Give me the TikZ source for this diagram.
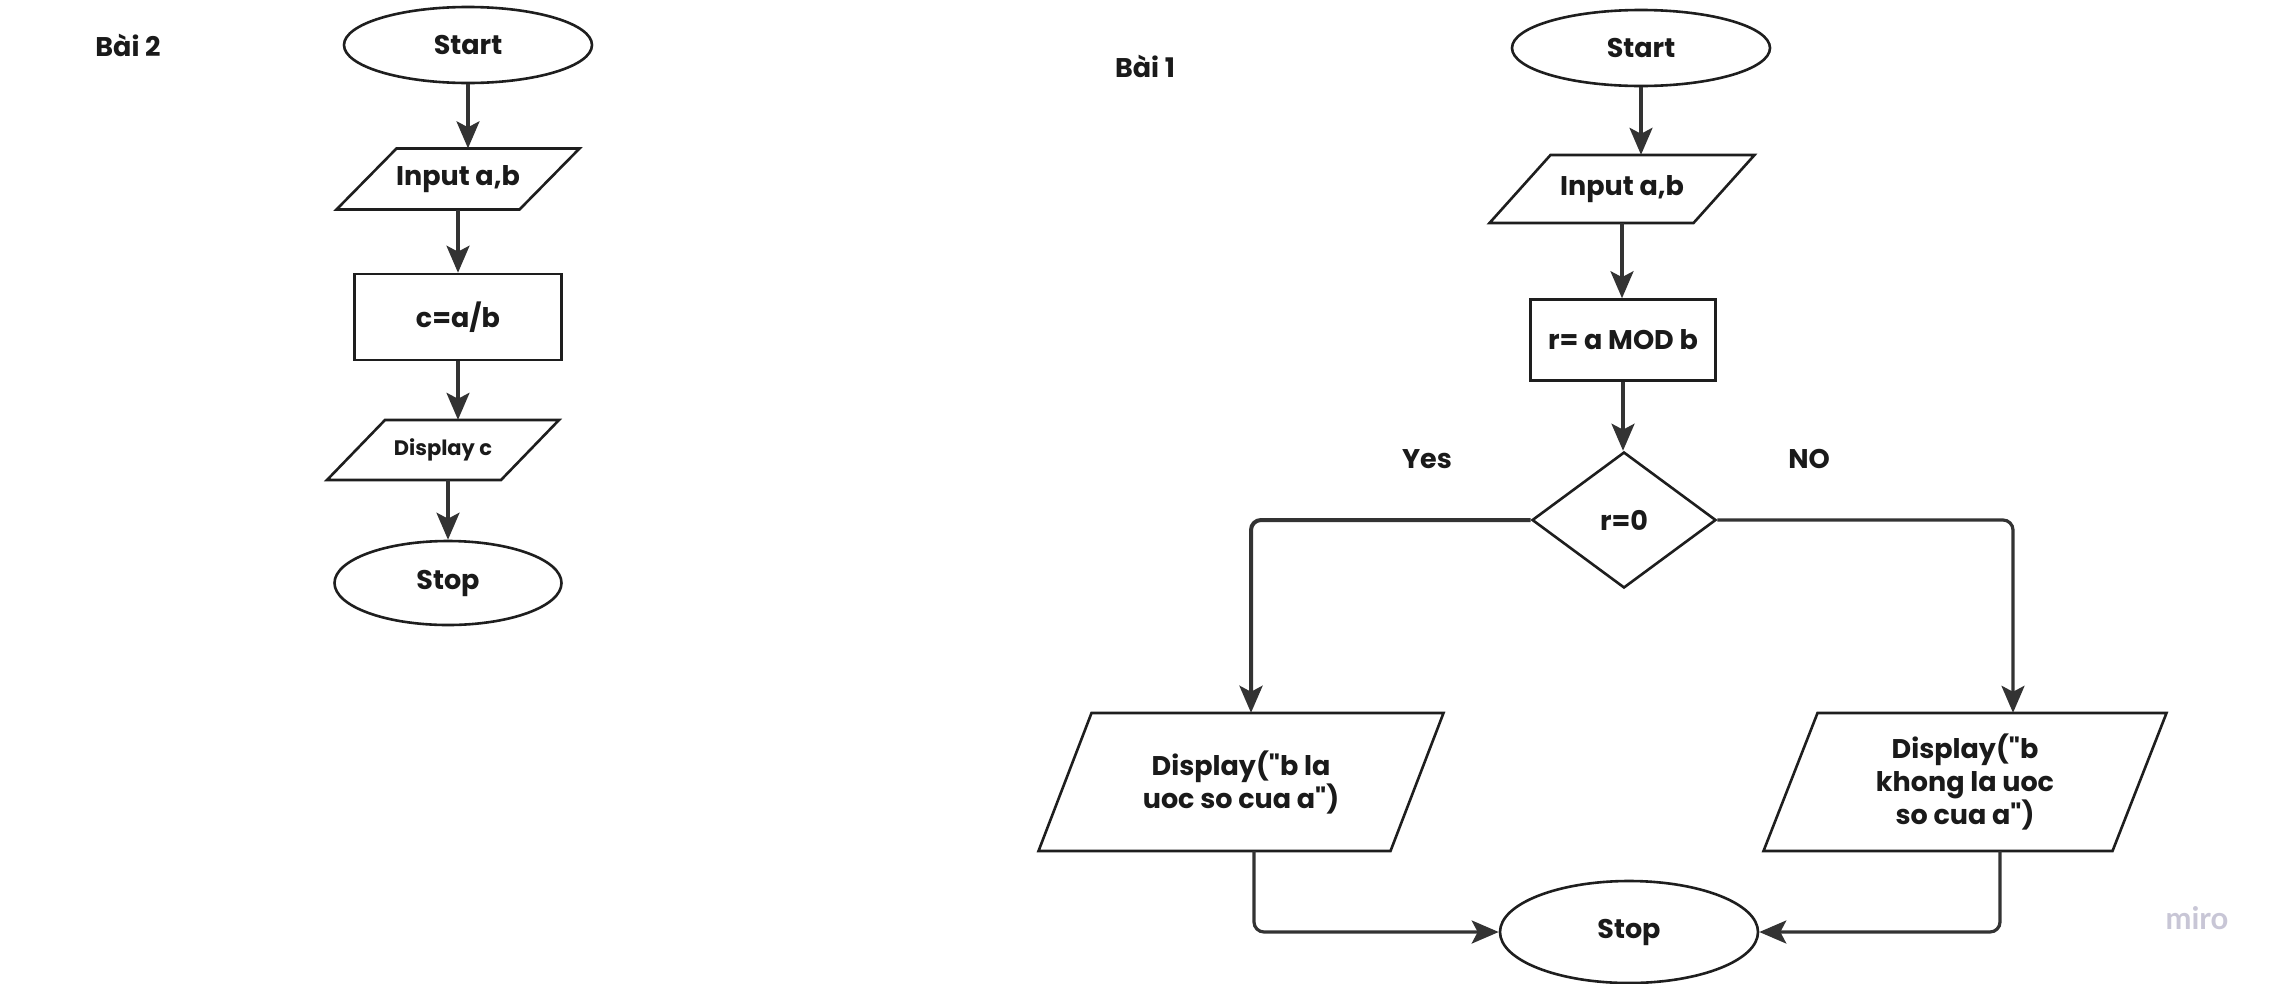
\documentclass[tikz,border=0pt]{standalone}
\usepackage{fontspec}
\setmainfont{Poppins}[Ligatures=TeXOff]
\newfontfamily\wmfont{Lato}
\usetikzlibrary{arrows.meta,calc,shapes.geometric}

\definecolor{shapeline}{HTML}{1E1E1E}
\definecolor{flowline}{HTML}{333333}
\definecolor{inkc}{HTML}{1A1A1A}
\definecolor{markc}{HTML}{C8C6D6}

% parallelogram outline around a named (undrawn) node:
% #1 node, #2 edge width, #3 height, #4 horizontal shift of top edge vs bottom edge
\newcommand{\slantbox}[4]{%
  \draw[boxline]
    ($(#1.center)+({-#2/2-#4/2},{#3/2})$) --
    ($(#1.center)+({#2/2-#4/2},{#3/2})$) --
    ($(#1.center)+({#2/2+#4/2},{-#3/2})$) --
    ($(#1.center)+({-#2/2+#4/2},{-#3/2})$) -- cycle;}

\begin{document}
\begin{tikzpicture}[x=1pt,y=-1pt,
  boxline/.style={draw=shapeline,line width=2.6pt,line join=miter},
  txt/.style={text=inkc,font=\bfseries\fontsize{27}{33}\selectfont,align=center,inner sep=0pt},
  term/.style={txt,ellipse,boxline,fill=white},
  procbox/.style={txt,rectangle,boxline,fill=white},
  iobox/.style={txt,rectangle,draw=none},
  decide/.style={txt,diamond,boxline,fill=white},
  flow/.style={draw=flowline,line width=3.2pt,rounded corners=10pt,
    -{Stealth[length=27pt,width=23pt,inset=6pt]}},
  heavyflow/.style={flow,line width=4pt}]
\useasboundingbox[fill=white] (0,0) rectangle (2286,983);

% ---------- Bai 2 ----------
\node[txt] (t2) at (128,45) {Bài 2};
\node[term,minimum width=248pt,minimum height=76pt] (start2) at (468,45) {Start};
\node[iobox,minimum width=183pt,minimum height=61pt] (in2) at (458,179) {Input a,b};
\slantbox{in2}{183}{61}{60}
\node[procbox,minimum width=207pt,minimum height=86pt] (calc2) at (458,317) {c=a/b};
\node[iobox,minimum width=174pt,minimum height=60pt,font=\bfseries\fontsize{21}{26}\selectfont] (out2) at (443,450) {Display c};
\slantbox{out2}{174}{60}{58}
\node[term,minimum width=227pt,minimum height=84pt] (stop2) at (448,583) {Stop};

\draw[flow] (start2.south) -- (start2.south |- in2.north);
\draw[flow] (in2.south) -- (in2.south |- calc2.north);
\draw[flow] (calc2.south) -- (calc2.south |- out2.north);
\draw[flow] (stop2.north |- out2.south) -- (stop2.north);

% ---------- Bai 1 ----------
\node[txt] (t1) at (1145,66) {Bài 1};
\node[term,minimum width=258pt,minimum height=76pt] (start1) at (1641,48) {Start};
\node[iobox,minimum width=204pt,minimum height=68pt] (in1) at (1622,189) {Input a,b};
\slantbox{in1}{204}{68}{61}
\node[procbox,minimum width=185pt,minimum height=81pt] (mod1) at (1623,340) {r= a MOD b};
\node[decide,minimum width=184pt,minimum height=136pt,aspect=1.35] (test1) at (1624,520) {r=0};
\node[txt] (yes) at (1427,459) {Yes};
\node[txt] (no) at (1809,459) {NO};
\node[iobox,minimum width=352pt,minimum height=138pt] (outL) at (1241,782) {Display("b la\\uoc so cua a")};
\slantbox{outL}{352}{138}{53}
\node[iobox,minimum width=349pt,minimum height=138pt] (outR) at (1965,782) {Display("b\\khong la uoc\\so cua a")};
\slantbox{outR}{349}{138}{54}
\node[term,minimum width=258pt,minimum height=102pt] (stop1) at (1629,932) {Stop};

\draw[flow] (start1.south) -- (start1.south |- in1.north);
\draw[flow] (in1.south) -- (in1.south |- mod1.north);
\draw[flow] (mod1.south) -- (mod1.south |- test1.north);
\draw[heavyflow] (test1.west) -| ([xshift=10pt]outL.north);
\draw[flow] (test1.east) -| ([xshift=48pt]outR.north);
\draw[flow] ([xshift=13pt]outL.south) |- (stop1.west);
\draw[flow] ([xshift=35pt]outR.south) |- (stop1.east);

\node[text=markc,font=\wmfont\bfseries\fontsize{31}{36}\selectfont,inner sep=0pt] (mark) at (2197,918) {miro};
\end{tikzpicture}
\end{document}
